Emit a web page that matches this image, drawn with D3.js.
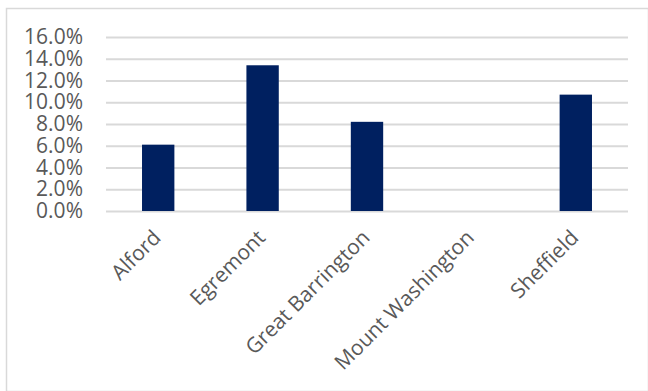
<!DOCTYPE html>
<html>
<head>
<meta charset="utf-8">
<script src="https://cdn.jsdelivr.net/npm/d3@7"></script>
<style>
  body { margin: 0; background: #fff; }
  svg { display: block; }
</style>
</head>
<body>
<svg class="chartSVG"></svg>
<script>
const svgWidth = 648;
const svgHeight = 391;

// data
const towns = ["Alford", "Egremont", "Great Barrington", "Mount Washington", "Sheffield"];
const shares = [0.061, 0.134, 0.082, 0, 0.107];
const yTicks = [0, 0.02, 0.04, 0.06, 0.08, 0.10, 0.12, 0.14, 0.16];

var fontFam = "'Open Sans', sans-serif";

var margin = {
    top: 37,
    right: 20,
    left: 106,
    bottom: 180
}

var innerWidth = svgWidth - margin.left - margin.right;
var innerHeight = svgHeight - margin.top - margin.bottom;

const svg = d3.select('.chartSVG')
  .attr("width", svgWidth)
  .attr("height", svgHeight);

// chart frame
svg.append("rect")
  .attr("x", 6.5)
  .attr("y", 8.5)
  .attr("width", svgWidth - 6)
  .attr("height", svgHeight - 8)
  .attr("fill", "none")
  .attr("stroke", "#d9d9d9")
  .attr("stroke-width", 1.5);

var graph = svg.append("g")
  .attr("transform", "translate(" + margin.left + "," + margin.top + ")");

var x = d3.scaleBand()
  .domain(towns)
  .range([0, innerWidth])
  .paddingInner(0.69)
  .paddingOuter(0.345);

var y = d3.scaleLinear()
  .domain([0, 0.16])
  .range([innerHeight, 0]);

// gridlines + y labels
var yAxis = graph.append("g")
  .call(d3.axisLeft(y)
    .tickValues(yTicks)
    .tickFormat(d3.format(".1%"))
    .tickSize(-innerWidth)
    .tickPadding(23));
yAxis.attr("font-family", fontFam).attr("font-size", 21);
yAxis.select(".domain").remove();
yAxis.selectAll(".tick line")
  .attr("stroke", "#d9d9d9")
  .attr("stroke-width", 2);
yAxis.selectAll(".tick text")
  .attr("fill", "#595959");

// bars
graph.append("g")
  .selectAll("rect")
  .data(towns)
  .enter().append("rect")
    .attr("x", function(d) { return x(d); })
    .attr("y", function(d, i) { return y(shares[i]); })
    .attr("height", function(d, i) { return y(0) - y(shares[i]); })
    .attr("width", x.bandwidth())
    .attr("fill", "#002060");

// x axis labels
var xAxis = graph.append("g")
  .attr("transform", "translate(0," + innerHeight + ")")
  .call(d3.axisBottom(x).tickSize(0).tickPadding(0));
xAxis.attr("font-family", fontFam).attr("font-size", 21);
xAxis.select(".domain").remove();
xAxis.selectAll(".tick text")
  .attr("fill", "#595959")
  .attr("text-anchor", "end")
  .attr("y", 0)
  .attr("dy", 0)
  .attr("transform", "translate(4,28) rotate(-45)");
</script>
</body>
</html>
